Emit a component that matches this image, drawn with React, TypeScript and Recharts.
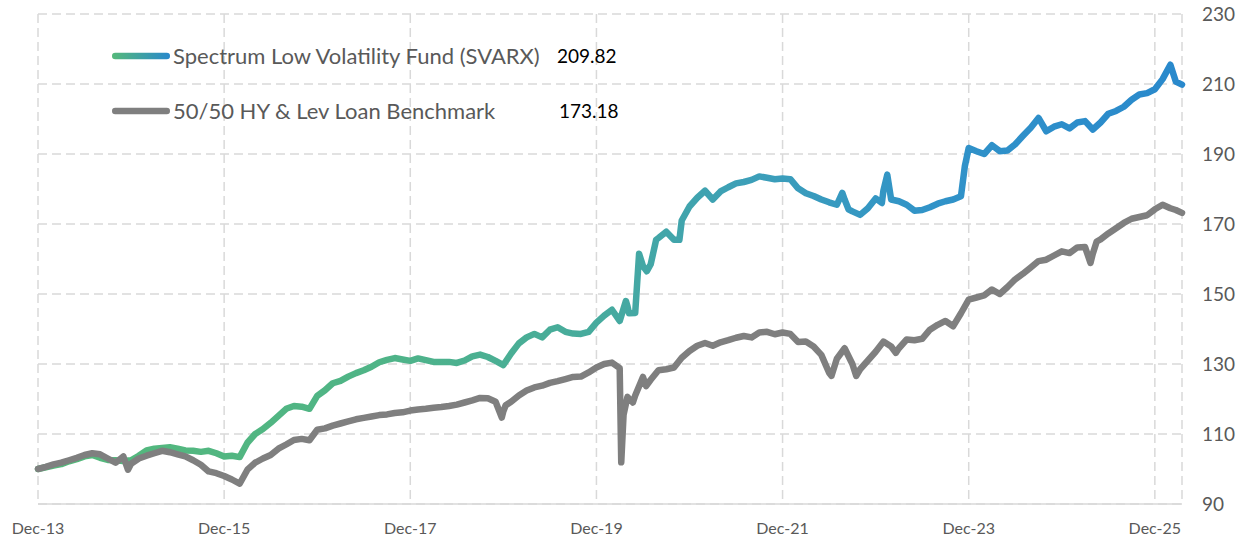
import React from 'react';
import { LineChart, Line, XAxis, YAxis, CartesianGrid, Legend } from 'recharts';

const fundName = 'Spectrum Low Volatility Fund (SVARX)';
const benchName = '50/50 HY & Lev Loan Benchmark';

// one value per month, first one is Dec-13
const fundMonthly = [
  100, 100.5, 101, 101.4, 102.2, 102.8, 103.6, 104, 103.2, 102.6, 102.5, 102.3,
  102.5, 103.8, 105.3, 105.8, 106, 106.2, 105.8, 105.3, 105.2, 104.9, 105.2, 104.5,
  103.6, 103.8, 103.4, 107.5, 110, 111.4, 113.2, 115.2, 117.2, 118, 117.8, 117.2,
  120.9, 122.5, 124.5, 125.2, 126.4, 127.4, 128.2, 129.2, 130.5, 131.2, 131.7, 131.3,
  130.9, 131.6, 131.1, 130.6, 130.6, 130.6, 130.3, 131, 132.2, 132.7, 132, 130.9,
  129.7, 133, 135.9, 137.6, 138.6, 137.6, 139.8, 140.5, 139.2, 138.7, 138.6, 139.2,
  141.8, 143.8, 145.5, 142.3, 146.5, 144.6, 158, 158.5, 166, 167.8, 165.5, 171,
  175, 177.5, 179.5, 177, 179.3, 180.5, 181.6, 182, 182.6, 183.6, 183.2, 182.8,
  183, 182.8, 180.2, 178.8, 178, 177, 176.2, 175.5, 177, 173.6, 172.6, 174.5,
  177.3, 179.5, 177, 176.5, 175.5, 173.8, 174, 174.8, 175.8, 176.5, 177, 177.9,
  191.7, 190.8, 190, 192.5, 190.8, 191, 192.8, 195.2, 197.5, 200.3, 196.5, 197.8,
  198.5, 197.3, 199, 199.4, 197, 199, 201.5, 202.3, 203.5, 205.5, 207, 207.4,
  208.5, 211.4, 215.5,
];

const benchMonthly = [
  100, 100.6, 101.3, 101.8, 102.5, 103.2, 104, 104.5, 104.2, 103, 101.8, 103.6,
  101.5, 103, 103.8, 104.5, 105.2, 104.8, 104.2, 103.6, 102.5, 101.2, 99.3, 98.8,
  98, 97, 95.8, 99.8, 101.8, 103, 104, 105.8, 107, 108.3, 108.6, 108.2,
  111.2, 111.6, 112.4, 113, 113.6, 114.2, 114.6, 115, 115.4, 115.6, 116, 116.2,
  116.7, 117, 117.2, 117.5, 117.7, 118, 118.4, 119, 119.6, 120.3, 120.2, 119.2,
  116.5, 119.2, 121, 122.4, 123.3, 123.8, 124.6, 125.1, 125.7, 126.3, 126.4, 127.6,
  129, 130, 130.4, 128.8, 120.6, 121, 126.3, 125.5, 128.2, 128.5, 129, 131.8,
  133.7, 135.2, 136, 135.2, 136.2, 136.8, 137.5, 138, 137.6, 139, 139.2, 138.5,
  139, 138.6, 136.3, 136.4, 135, 132.6, 127.5, 131.5, 134.5, 130, 128.5, 131,
  133.5, 136.4, 135, 134.5, 137, 136.8, 137.2, 139.8, 141.2, 142.3, 140.8, 144.5,
  148.4, 149, 149.6, 151.3, 150, 152, 154.2, 155.8, 157.6, 159.4, 159.8, 161,
  162.2, 161.7, 163.3, 163.4, 161.5, 165.6, 167.3, 168.8, 170.3, 171.5, 172, 172.5,
  174.2, 175.5, 174.5,
];

// sharp moves inside a month, and the last print
const fundIntraMonth: [string, number][] = [
  ['2020-03-25', 148], ['2020-04-07', 144.5], ['2020-05-16', 161.5], ['2020-06-16', 156.5],
  ['2020-07-22', 165.5], ['2020-10-22', 165.5], ['2022-07-22', 178.9], ['2022-08-16', 174.2],
  ['2022-12-25', 176], ['2023-01-16', 184.1], ['2023-11-16', 186.5], ['2026-02-22', 210.7],
  ['2026-03-16', 209.82],
];

const benchIntraMonth: [string, number][] = [
  ['2014-11-19', 99.8], ['2018-11-25', 114.7], ['2018-12-10', 118.2], ['2020-03-07', 101.9],
  ['2020-03-16', 115.5], ['2020-04-22', 119], ['2020-06-13', 123.7], ['2022-06-10', 126.6],
  ['2022-09-16', 126.6], ['2023-02-19', 133.2], ['2025-03-22', 158.9], ['2025-04-16', 165],
  ['2026-02-22', 174], ['2026-03-16', 173.18],
];

const xTickLabels = ['Dec-13', 'Dec-15', 'Dec-17', 'Dec-19', 'Dec-21', 'Dec-23', 'Dec-25'];
const yTicks = [90, 110, 130, 150, 170, 190, 210, 230];

const FONT = 'Lato, "Open Sans", sans-serif';

// months since Dec-13
const monthIndex = (date: string) => {
  const [y, m, d] = date.split('-').map(Number);
  return (y - 2013) * 12 + (m - 12) + ((d || 1) - 1) / 30;
};

const buildSeries = (monthly: number[], extra: [string, number][]) =>
  [
    ...monthly.map((v, i) => ({ t: i, v })),
    ...extra.map(([date, v]) => ({ t: monthIndex(date), v })),
  ].sort((a, b) => a.t - b.t);

const fundData = buildSeries(fundMonthly, fundIntraMonth);
const benchData = buildSeries(benchMonthly, benchIntraMonth);
const lastT = fundData[fundData.length - 1].t;

const gradStops = [
  ['0%', '#55b97a'],
  ['30%', '#4fb487'],
  ['50%', '#46aa9f'],
  ['62%', '#3c9fb8'],
  ['78%', '#3193c8'],
  ['100%', '#2989cc'],
];

const LegendBox = () => {
  const rows = [
    { name: fundName, value: fundData[fundData.length - 1].v, y: 56, fill: 'url(#legendGrad)', valueX: 557 },
    { name: benchName, value: benchData[benchData.length - 1].v, y: 111, fill: '#7f7f7f', valueX: 559 },
  ];
  return (
    <div style={{ position: 'relative', width: 700, height: 140, fontFamily: FONT }}>
      {rows.map((r) => (
        <React.Fragment key={r.name}>
          <svg style={{ position: 'absolute', left: 110, top: r.y - 5 }} width={62} height={10}>
            <defs>
              <linearGradient id="legendGrad" x1="0" y1="0" x2="1" y2="0">
                <stop offset="0%" stopColor="#55b97a" />
                <stop offset="100%" stopColor="#2989cc" />
              </linearGradient>
            </defs>
            <rect x={2} y={1.75} width={58} height={6.5} rx={3.25} fill={r.fill} />
          </svg>
          <div style={{ position: 'absolute', left: 173, top: r.y - 15, lineHeight: '30px', fontSize: 22, color: '#595959', whiteSpace: 'nowrap' }}>
            {r.name}
          </div>
          <div style={{ position: 'absolute', left: r.valueX, top: r.y - 14, lineHeight: '28px', fontSize: 19, color: '#000', whiteSpace: 'nowrap' }}>
            {r.value.toFixed(2)}
          </div>
        </React.Fragment>
      ))}
    </div>
  );
};

const App = () => {
  return (
    <div style={{ position: 'absolute', left: 0, top: 0, background: '#fff', fontFamily: FONT }}>
      <LineChart width={1240} height={541} margin={{ top: 14, right: 0, left: 38, bottom: 0 }}>
        <defs>
          <linearGradient id="fundGrad" x1="0" y1="0" x2="1" y2="0">
            {gradStops.map(([o, c]) => (
              <stop key={o} offset={o} stopColor={c} />
            ))}
          </linearGradient>
        </defs>
        <CartesianGrid stroke="#d9d9d9" strokeWidth={1.5} strokeDasharray="9 5" />
        <XAxis
          type="number"
          dataKey="t"
          domain={[0, lastT]}
          ticks={xTickLabels.map((_, i) => i * 24)}
          tickFormatter={(t: number) => xTickLabels[Math.round(t / 24)]}
          height={37}
          tickLine={false}
          tickSize={6}
          tickMargin={13}
          axisLine={{ stroke: '#d9d9d9', strokeWidth: 1.5 }}
          tick={{ fill: '#595959', fontSize: 16, fontFamily: FONT }}
          interval={0}
        />
        <YAxis
          orientation="right"
          domain={[90, 230]}
          ticks={yTicks}
          width={58}
          axisLine={false}
          tickLine={false}
          tickSize={6}
          tickMargin={14}
          tick={{ fill: '#595959', fontSize: 19, fontFamily: FONT, textAnchor: 'start' }}
          interval={0}
        />
        <Legend
          layout="vertical"
          align="center"
          verticalAlign="middle"
          wrapperStyle={{ left: 0, top: 0, width: 700, height: 140 }}
          content={() => <LegendBox />}
        />
        <Line
          data={fundData}
          dataKey="v"
          type="linear"
          stroke="url(#fundGrad)"
          strokeWidth={6.5}
          dot={false}
          activeDot={false}
          strokeLinejoin="round"
          strokeLinecap="round"
          isAnimationActive={false}
        />
        <Line
          data={benchData}
          dataKey="v"
          type="linear"
          stroke="#7f7f7f"
          strokeWidth={6.5}
          dot={false}
          activeDot={false}
          strokeLinejoin="round"
          strokeLinecap="round"
          isAnimationActive={false}
        />
      </LineChart>
    </div>
  );
};

export default App;
